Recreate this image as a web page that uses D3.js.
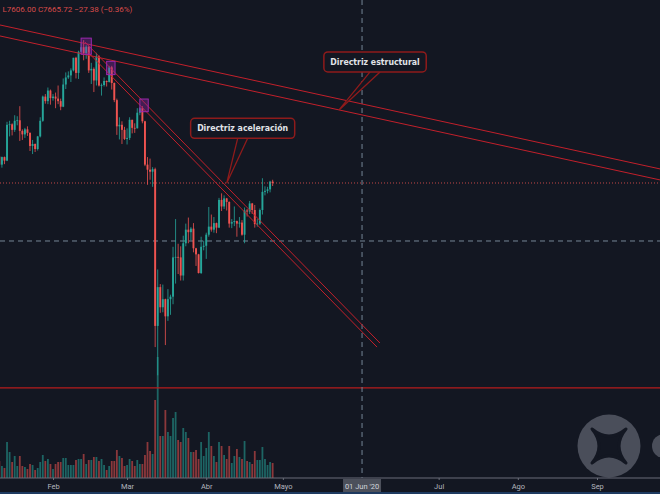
<!DOCTYPE html>
<html>
<head>
<meta charset="utf-8">
<script src="https://cdn.jsdelivr.net/npm/d3@7"></script>
<style>
  body { margin: 0; background: #131722; }
  svg { display: block; }
</style>
</head>
<body>
<script>
var svg_width = 660;
var svg_height = 494;
var axis_y = 478;

// daily BTC candles, 11 Jan 2020 -> 27 Apr 2020
var firstDay = '2020-01-11';
var opens = [8190,8030,8180,8110,8820,8830,8720,8900,8910,8700,8630,8730,8660,8400,8440,8340,8590,8900,9380,9290,9500,
  9350,9380,9340,9290,9180,9620,9760,9800,9900,10150,9850,10270,10360,10240,10370,9900,9930,9700,10180,9600,9610,9690,9670,9960,9650,9310,8790,8820,8720,
  8540,8560,8920,8760,8750,9060,9150,8890,8030,7930,7890,7940,4830,5600,5200,5360,5020,5360,5410,6190,6200,6190,5830,6470,6740,6690,6760,6370,6250,5880,6400,
  6420,6640,6800,6740,6870,6780,7330,7200,7360,7290,6860,6890,6910,6860,6880,6640,7120,7100,7260,7130,6850,6860,7130,7490,7510,7540,7693.10];
var highs = [8280,8190,8190,8880,8900,8850,9010,8990,9190,8730,8760,8790,8670,8520,8450,8600,8970,9400,9430,9560,9520,
  9430,9460,9600,9340,9740,9860,9880,9940,10150,10170,10290,10450,10500,10400,10380,10050,9960,10250,10200,9640,9760,9700,9990,9990,9660,9340,8970,8890,8780,
  8750,8970,8920,8850,9150,9170,9190,8900,8180,8150,7980,7970,5950,5660,5650,5370,5560,5450,6400,6950,6460,6410,6620,6860,6980,6790,6870,6380,6260,6600,6520,
  6680,7190,7040,6990,6880,7370,7460,7420,7370,7300,6950,7200,6920,6990,6930,7180,7150,7310,7270,7230,6950,7160,7760,7600,7590,7710,7730];
var lows = [7990,7970,8040,8100,8590,8610,8680,8810,8500,8520,8560,8600,8300,8240,8280,8310,8570,8880,9240,9230,9220,
  9300,9150,9230,9110,9170,9530,9730,9670,9880,9740,9730,10250,10100,10130,9850,9630,9470,9600,9580,9400,9580,9580,9660,9520,9270,8620,8530,8440,8520,
  8430,8520,8650,8660,8750,9010,8850,8000,7630,7730,7590,4410,3850,5090,5100,4450,4930,5050,5260,5670,5860,5730,5730,6410,6470,6530,6290,6020,5870,5860,6330,
  6160,6600,6700,6680,6670,6770,7110,7150,7120,6780,6770,6810,6600,6780,6620,6470,7000,7050,7050,6780,6800,6830,7040,7420,7460,7480,7606];
var closes = [8030,8180,8110,8820,8830,8720,8900,8910,8700,8630,8730,8660,8400,8440,8340,8590,8900,9380,9290,9500,9350,
  9380,9340,9290,9180,9620,9760,9800,9900,10150,9850,10270,10360,10240,10370,9900,9930,9700,10180,9600,9610,9690,9670,9960,9650,9310,8790,8820,8720,8540,
  8560,8920,8760,8750,9060,9150,8890,8030,7930,7890,7940,4830,5600,5200,5360,5020,5360,5410,6190,6200,6190,5830,6470,6740,6690,6760,6370,6250,5880,6400,6420,
  6640,6800,6740,6870,6780,7330,7200,7360,7290,6860,6890,6910,6860,6880,6640,7120,7100,7260,7130,6850,6860,7130,7490,7510,7540,7693.10,7665.72];
// volume, thousand BTC
var volumes = [17,12,10,36,26,16,22,12,22,12,11,9,14,13,8,10,16,23,17,19,14,9,14,16,16,20,20,13,13,13,
  18,19,19,24,14,18,18,21,21,17,19,13,8,12,17,17,28,22,20,12,13,19,17,12,18,14,14,23,36,27,
  24,78,121,42,42,68,46,42,60,66,38,36,50,46,40,26,26,28,19,36,22,30,46,32,22,16,36,32,23,19,
  32,15,22,29,21,19,37,17,16,14,27,18,18,31,19,13,16,15];

var tickDates = ['2020-02-01','2020-03-01','2020-04-01','2020-05-01','2020-07-01','2020-08-01','2020-09-01'];
var tickLabels = ['Feb','Mar','Abr','Mayo','Jul','Ago','Sep'];

var headerText = 'L7606.00 C7665.72 \u221227.38 (\u22120.36%)';

// drawings
var structuralLines = [
  [{date: '2020-02-13', price: 10439}, {date: '2020-08-01', price: 8560}],
  [{date: '2020-02-13', price: 10221}, {date: '2020-08-01', price: 8342}]
];
var accelLines = [
  [{date: '2020-02-13T12:00Z', price: 10463}, {date: '2020-06-08', price: 4491}],
  [{date: '2020-02-14T17:00Z', price: 10259}, {date: '2020-06-06T21:00Z', price: 4410}]
];
var pivotBoxes = [
  {from: '2020-02-12', to: '2020-02-16', low: 10220, high: 10540},
  {from: '2020-02-22', to: '2020-02-25T07:00Z', low: 9816, high: 10080},
  {from: '2020-03-06', to: '2020-03-09T07:00Z', low: 9080, high: 9332}
];
var supportPrice = 3600;
var crossDate = '2020-06-01';
var crossPrice = 6515;
var callouts = [
  {text: 'Directriz estructural', date: '2020-05-23', price: 9115, dx: 36, dy: -48},
  {text: 'Directriz aceleraci\u00f3n', date: '2020-04-09', price: 7660, dx: 16, dy: -55}
];

var days = d3.utcDay.range(new Date(firstDay), d3.utcDay.offset(new Date(firstDay), closes.length));
var candles = days.map(function(d, i) {
  return {date: d, o: opens[i], h: highs[i], l: lows[i], c: closes[i], v: volumes[i]};
});

var up = '#26a69a', down = '#ef5350';
var lineRed = '#c2202b';

var svg = d3.select('body').append('svg')
            .attr('width', svg_width)
            .attr('height', svg_height)
            .style('font-family', 'Roboto, sans-serif');

svg.append('rect').attr('width', svg_width).attr('height', svg_height).attr('fill', '#131722');

var xscale = d3.scaleUtc().domain([new Date('2020-02-01'), new Date('2020-09-01')]).range([53, 597]);
var yscale = d3.scaleLinear().domain([3000, 11000]).range([418.15, 14.95]);
var vscale = d3.scaleLinear().domain([0, 121]).range([axis_y, 357]);

// volume
svg.append('g').selectAll('rect').data(candles).enter().append('rect')
    .attr('x', function(d) { return xscale(d.date) - 0.9; })
    .attr('y', function(d) { return vscale(d.v); })
    .attr('width', 1.8)
    .attr('height', function(d) { return axis_y - vscale(d.v); })
    .attr('fill', function(d) { return d.c >= d.o ? up : down; })
    .attr('opacity', 0.55);

// support line
svg.append('line')
    .attr('x1', 0).attr('x2', svg_width)
    .attr('y1', yscale(supportPrice)).attr('y2', yscale(supportPrice))
    .attr('stroke', '#b71c1c').attr('stroke-width', 1.2);

// crosshair
svg.append('line')
    .attr('x1', xscale(new Date(crossDate))).attr('x2', xscale(new Date(crossDate)))
    .attr('y1', 0).attr('y2', axis_y)
    .attr('stroke', '#758696').attr('stroke-dasharray', '5,4');
svg.append('line')
    .attr('x1', 0).attr('x2', svg_width)
    .attr('y1', yscale(crossPrice)).attr('y2', yscale(crossPrice))
    .attr('stroke', '#758696').attr('stroke-dasharray', '5,4');

// candles
var cg = svg.append('g');
cg.selectAll('line').data(candles).enter().append('line')
    .attr('x1', function(d) { return xscale(d.date); })
    .attr('x2', function(d) { return xscale(d.date); })
    .attr('y1', function(d) { return yscale(d.h); })
    .attr('y2', function(d) { return yscale(d.l); })
    .attr('stroke', function(d) { return d.c >= d.o ? up : down; })
    .attr('stroke-width', 0.8);
cg.selectAll('rect').data(candles).enter().append('rect')
    .attr('x', function(d) { return xscale(d.date) - 0.95; })
    .attr('y', function(d) { return yscale(Math.max(d.o, d.c)); })
    .attr('width', 1.9)
    .attr('height', function(d) { return Math.max(0.8, Math.abs(yscale(d.o) - yscale(d.c))); })
    .attr('fill', function(d) { return d.c >= d.o ? up : down; });

// last price line
var last = candles[candles.length - 1];
svg.append('line')
    .attr('x1', 0).attr('x2', svg_width)
    .attr('y1', yscale(last.c)).attr('y2', yscale(last.c))
    .attr('stroke', down).attr('stroke-opacity', 0.8).attr('stroke-dasharray', '1,2');

// trend lines
structuralLines.forEach(function(l) {
  var x1 = xscale(new Date(l[0].date)), y1 = yscale(l[0].price);
  var x2 = xscale(new Date(l[1].date)), y2 = yscale(l[1].price);
  var m = (y2 - y1) / (x2 - x1);
  svg.append('line')
      .attr('x1', 0).attr('y1', y1 - m * x1)
      .attr('x2', svg_width).attr('y2', y1 + m * (svg_width - x1))
      .attr('stroke', lineRed).attr('stroke-width', 1);
});
accelLines.forEach(function(l) {
  svg.append('line')
      .attr('x1', xscale(new Date(l[0].date))).attr('y1', yscale(l[0].price))
      .attr('x2', xscale(new Date(l[1].date))).attr('y2', yscale(l[1].price))
      .attr('stroke', lineRed).attr('stroke-width', 1);
});

// pivot boxes
svg.append('g').selectAll('rect').data(pivotBoxes).enter().append('rect')
    .attr('x', function(d) { return xscale(new Date(d.from)); })
    .attr('y', function(d) { return yscale(d.high); })
    .attr('width', function(d) { return xscale(new Date(d.to)) - xscale(new Date(d.from)); })
    .attr('height', function(d) { return yscale(d.low) - yscale(d.high); })
    .attr('fill', 'rgba(156,39,176,0.35)')
    .attr('stroke', '#9c27b0').attr('stroke-width', 1);

// callouts
callouts.forEach(function(c) {
  var tx = xscale(new Date(c.date)), ty = yscale(c.price);
  var cx = tx + c.dx, cy = ty + c.dy;
  var g = svg.append('g');
  var label = g.append('text')
      .attr('x', cx).attr('y', cy + 3.2)
      .attr('text-anchor', 'middle')
      .attr('font-family', '"DejaVu Sans Condensed", "Liberation Sans", sans-serif')
      .attr('font-weight', 'bold')
      .attr('font-size', 8.7)
      .attr('fill', '#e1e3e8')
      .text(c.text);
  var w = label.node().getComputedTextLength() + 13, h = 20;
  g.insert('path', 'text')
      .attr('d', 'M' + (cx - 5) + ',' + (cy + h / 2) + 'L' + tx + ',' + ty + 'L' + (cx + 5) + ',' + (cy + h / 2))
      .attr('fill', '#131722').attr('stroke', '#8e1b1b').attr('stroke-width', 1.3);
  g.insert('rect', 'text')
      .attr('x', cx - w / 2).attr('y', cy - h / 2)
      .attr('width', w).attr('height', h)
      .attr('rx', 4)
      .attr('fill', '#131722').attr('stroke', '#8e1b1b').attr('stroke-width', 1.5);
});

// watermark
var wm = svg.append('g').attr('transform', 'translate(609,446)');
wm.append('circle').attr('r', 31.5).attr('fill', '#4a4e5a');
wm.append('path')
    .attr('d', 'M-17,-17 Q0,-3 17,-17 Q3,0 17,17 Q0,3 -17,17 Q-3,0 -17,-17Z')
    .attr('fill', '#131722').attr('stroke', '#131722').attr('stroke-width', 3).attr('stroke-linejoin', 'round');
svg.append('circle').attr('cx', 664).attr('cy', 446).attr('r', 12).attr('fill', '#4a4e5a');

// time axis
svg.append('line')
    .attr('x1', 0).attr('x2', svg_width)
    .attr('y1', axis_y).attr('y2', axis_y)
    .attr('stroke', '#6a6d78');
var xaxis = d3.axisBottom(xscale)
    .tickValues(tickDates.map(function(d) { return new Date(d); }))
    .tickFormat(function(d, i) { return tickLabels[i]; })
    .tickSize(2).tickPadding(4);
var ax = svg.append('g')
    .attr('transform', 'translate(0,' + axis_y + ')')
    .call(xaxis);
ax.select('.domain').remove();
ax.selectAll('line').attr('stroke', '#6a6d78');
ax.selectAll('text').attr('fill', '#b2b5be').attr('font-size', 7.5).attr('font-family', 'Roboto, sans-serif');

var jx = xscale(new Date(crossDate));
svg.append('rect').attr('x', jx - 19).attr('y', 479).attr('width', 38).attr('height', 13).attr('fill', '#4c505b');
svg.append('text').attr('x', jx).attr('y', 488.5).attr('text-anchor', 'middle')
    .attr('font-size', 7.5).attr('fill', '#d1d4dc').text("01 Jun '20");

svg.append('rect').attr('x', 0).attr('y', 492).attr('width', svg_width).attr('height', 2).attr('fill', '#1e3a60');

// header
svg.append('text').attr('x', 2.5).attr('y', 11.8)
    .attr('font-size', 8).attr('fill', down).attr('fill-opacity', 0.9)
    .text(headerText);
</script>
</body>
</html>
